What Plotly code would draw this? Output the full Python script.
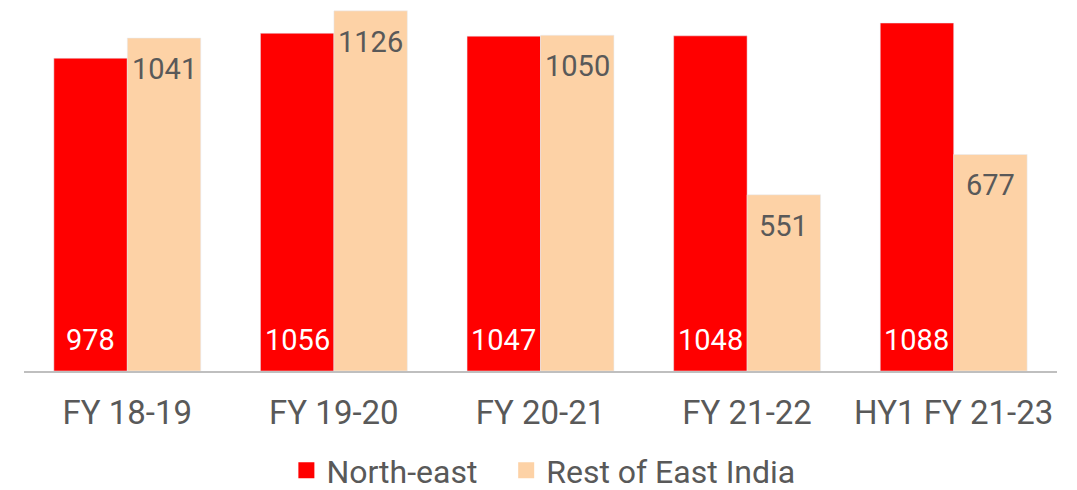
import plotly.graph_objects as go

categories = ["FY 18-19", "FY 19-20", "FY 20-21", "FY 21-22", "HY1 FY 21-23"]
north_east = [978, 1056, 1047, 1048, 1088]
rest_east = [1041, 1126, 1050, 551, 677]
series_names = ["North-east", "Rest of East India"]

RED = "#FF0000"
PEACH = "#FDD2A6"
GREY = "#595959"
FONT = "Roboto"

W, H = 1077, 490
ML, MR, MT, MB = 24, 20, 0, 119
BARGAP = 0.289
plot_w = W - ML - MR
half_bar = plot_w / len(categories) * (1 - BARGAP) / 4  # centre offset of each bar in a group

fig = go.Figure()
fig.add_trace(go.Bar(x=categories, y=north_east, name=series_names[0], marker_color=RED,
                     showlegend=False))
fig.add_trace(go.Bar(x=categories, y=rest_east, name=series_names[1], marker_color=PEACH,
                     showlegend=False))
# legend entries
fig.add_trace(go.Scatter(x=[None], y=[None], mode="markers",
                         name=series_names[0] + "\u00a0\u00a0\u00a0",
                         marker=dict(symbol="square", size=18, color=RED)))
fig.add_trace(go.Scatter(x=[None], y=[None], mode="markers", name=series_names[1],
                         marker=dict(symbol="square", size=18, color=PEACH)))

# value labels
for c, v in zip(categories, north_east):
    fig.add_annotation(x=c, y=0, text=str(v), showarrow=False, xref="x", yref="y",
                       xanchor="center", yanchor="bottom", xshift=-half_bar, yshift=12,
                       font=dict(family=FONT, size=29, color="white"))
for c, v in zip(categories, rest_east):
    fig.add_annotation(x=c, y=v, text=str(v), showarrow=False, xref="x", yref="y",
                       xanchor="center", yanchor="top", xshift=half_bar, yshift=-12,
                       font=dict(family=FONT, size=29, color=GREY))

fig.update_layout(
    width=W, height=H,
    margin=dict(l=ML, r=MR, t=MT, b=MB, autoexpand=False),
    paper_bgcolor="white", plot_bgcolor="white",
    barmode="group", bargap=BARGAP, bargroupgap=0,
    font=dict(family=FONT, color=GREY, size=32),
    legend=dict(orientation="h", x=0.254, xanchor="left", y=-0.268, yanchor="middle",
                font=dict(family=FONT, size=32, color=GREY), borderwidth=0,
                traceorder="normal"),
)
fig.update_xaxes(showline=True, linecolor="#BFBFBF", linewidth=2, showgrid=False,
                 ticks="", tickfont=dict(family=FONT, size=33, color=GREY),
                 ticklabelstandoff=11)
fig.update_yaxes(visible=False, range=[0, 1160], showgrid=False, zeroline=False)

fig.write_html("out.html", config={"displayModeBar": False},
               post_script="document.body.style.margin='0';document.body.style.overflow='hidden';")
